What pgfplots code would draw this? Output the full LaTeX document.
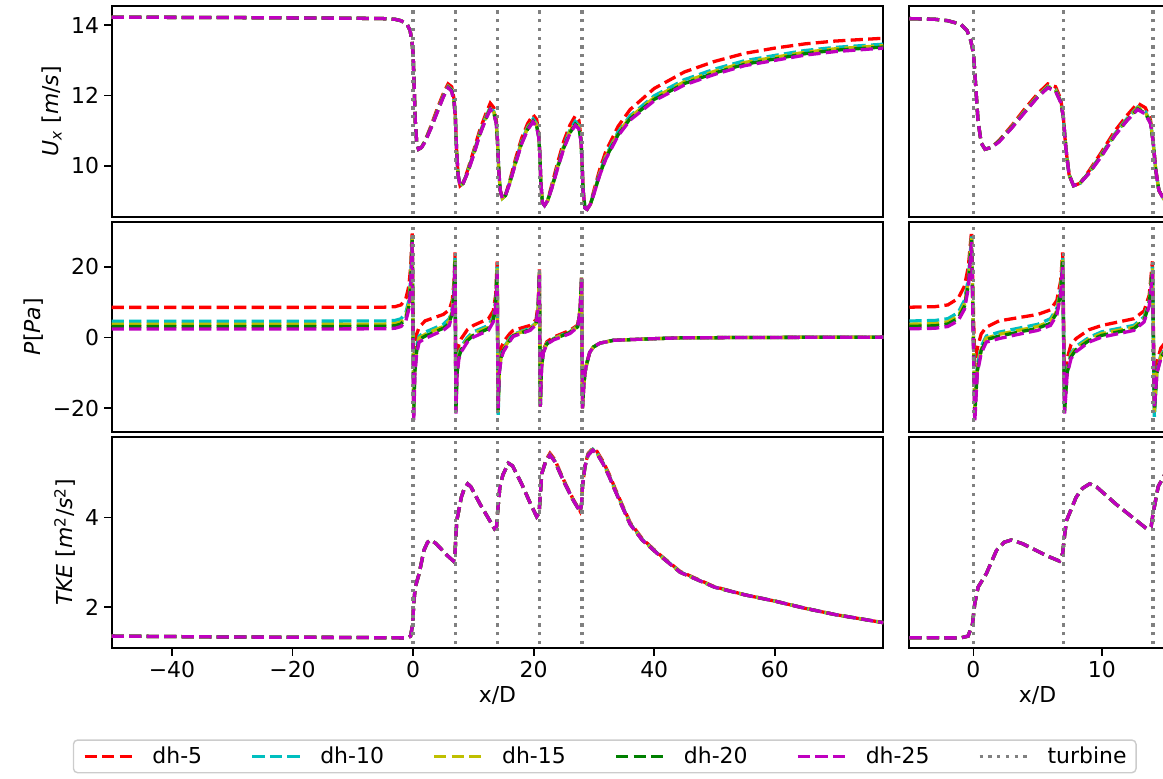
\documentclass[border=0pt]{standalone}
\usepackage{fontspec}
\setmainfont{DejaVu Sans}
\usepackage{pgfplots}
\usepackage{pgfplotstable}
\pgfplotsset{compat=1.18}

\definecolor{colR}{rgb}{1,0,0}
\definecolor{colC}{rgb}{0,0.75,0.75}
\definecolor{colY}{rgb}{0.75,0.75,0}
\definecolor{colG}{rgb}{0,0.5,0}
\definecolor{colM}{rgb}{0.75,0,0.75}
\definecolor{colGray}{rgb}{0.5,0.5,0.5}
\definecolor{lframe}{rgb}{0.8,0.8,0.8}

\pgfplotstableread{
x r c y g m
-50 14.23 14.23 14.23 14.23 14.23
-30 14.22 14.22 14.22 14.22 14.22
-10 14.20 14.20 14.20 14.20 14.20
-5 14.19 14.19 14.19 14.19 14.19
-3 14.17 14.17 14.17 14.17 14.17
-2 14.13 14.13 14.13 14.13 14.13
-1 14.03 14.03 14.03 14.03 14.03
-0.5 13.85 13.85 13.85 13.85 13.85
-0.2 13.55 13.55 13.55 13.55 13.55
0 13.2 13.2 13.2 13.2 13.2
0.15 12.4 12.4 12.4 12.4 12.4
0.35 11.3 11.3 11.3 11.3 11.3
0.6 10.65 10.65 10.65 10.65 10.65
0.9 10.47 10.47 10.47 10.47 10.47
1.4 10.52 10.52 10.52 10.52 10.52
2.0 10.72 10.7 10.7 10.7 10.68
3.0 11.15 11.11 11.1 11.09 11.08
4.0 11.62 11.56 11.55 11.53 11.52
5.0 12.05 11.99 11.98 11.96 11.95
5.8 12.33 12.26 12.25 12.23 12.22
6.4 12.25 12.17 12.15 12.14 12.12
6.8 11.9 11.84 11.83 11.81 11.8
7.0 11.4 11.4 11.4 11.4 11.4
7.2 10.5 10.5 10.5 10.5 10.5
7.45 9.75 9.75 9.75 9.75 9.75
7.8 9.43 9.43 9.43 9.43 9.43
8.3 9.5 9.5 9.5 9.5 9.5
9.0 9.85 9.81 9.8 9.79 9.78
10.0 10.4 10.34 10.32 10.3 10.28
11.0 10.98 10.9 10.88 10.86 10.85
12.0 11.45 11.36 11.33 11.31 11.3
12.8 11.78 11.67 11.65 11.62 11.6
13.4 11.65 11.54 11.52 11.49 11.47
13.8 11.3 11.24 11.23 11.21 11.2
14.0 10.7 10.7 10.7 10.7 10.7
14.2 9.9 9.9 9.9 9.9 9.9
14.45 9.3 9.3 9.3 9.3 9.3
14.8 9.07 9.07 9.07 9.07 9.07
15.3 9.15 9.15 9.15 9.15 9.15
16.0 9.55 9.51 9.5 9.49 9.48
17.0 10.2 10.12 10.1 10.08 10.07
18.0 10.78 10.69 10.66 10.64 10.62
19.0 11.2 11.1 11.07 11.04 11.02
19.9 11.45 11.33 11.3 11.27 11.25
20.5 11.32 11.19 11.16 11.13 11.1
20.85 10.9 10.84 10.83 10.81 10.8
21.0 10.4 10.4 10.4 10.4 10.4
21.2 9.5 9.5 9.5 9.5 9.5
21.45 8.95 8.95 8.95 8.95 8.95
21.8 8.87 8.87 8.87 8.87 8.87
22.3 9.0 9.0 9.0 9.0 9.0
23.0 9.45 9.39 9.37 9.36 9.35
24.0 10.1 10.0 9.98 9.96 9.94
25.0 10.7 10.57 10.54 10.51 10.49
26.0 11.15 11.01 10.97 10.93 10.91
26.9 11.42 11.26 11.22 11.18 11.15
27.5 11.3 11.15 11.11 11.08 11.05
27.85 10.8 10.74 10.73 10.71 10.7
28.0 10.2 10.2 10.2 10.2 10.2
28.2 9.3 9.3 9.3 9.3 9.3
28.5 8.8 8.8 8.8 8.8 8.8
28.85 8.76 8.76 8.76 8.76 8.76
29.4 8.9 8.9 8.9 8.9 8.9
30.0 9.3 9.24 9.23 9.21 9.2
31.0 9.92 9.82 9.79 9.77 9.75
32.0 10.42 10.29 10.26 10.23 10.2
34 11.12 10.96 10.92 10.88 10.85
36 11.6 11.42 11.38 11.34 11.3
40 12.2 11.99 11.94 11.89 11.85
45 12.67 12.45 12.39 12.34 12.3
50 12.97 12.75 12.69 12.64 12.6
55 13.2 12.99 12.94 12.89 12.85
60 13.35 13.14 13.09 13.04 13.0
65 13.47 13.28 13.23 13.19 13.15
70 13.55 13.37 13.33 13.29 13.25
78 13.63 13.46 13.42 13.38 13.35
}\Utab

\pgfplotstableread{
x r c y g m
-50 8.5 4.6 3.7 3.1 2.4
-20 8.5 4.6 3.7 3.1 2.4
-5 8.55 4.65 3.75 3.15 2.45
-3 8.7 4.8 3.9 3.3 2.6
-2 9.2 5.3 4.4 3.8 3.1
-1.2 11.0 7.0 6.0 5.4 4.7
-0.7 14.5 10.5 9.5 8.8 8.0
-0.4 20 16.5 15.5 14.8 14
-0.15 30 28.5 28 27.5 27
0.1 -8 -18 -20 -22 -24
0.3 -3 -8 -9 -9.5 -10
0.6 1.0 -2.5 -3.3 -3.7 -4.5
1.0 2.9 0.4 -0.2 -0.6 -1.3
2.0 4.7 1.5 0.9 0.4 -0.3
3.5 5.6 2.6 2.0 1.5 0.9
5.0 6.5 3.7 3.1 2.6 2.0
6.0 7.8 5.3 4.6 4.0 3.4
6.5 10.5 8.2 7.5 7.0 6.4
6.8 16 14 13.3 12.7 12
6.95 24 22.5 22 21.5 20.5
7.1 -15 -19 -20 -21 -21.5
7.3 -6 -9 -9.5 -10 -10.5
7.6 -2 -4.5 -5 -5.5 -6
8.0 -0.3 -2.5 -3 -3.4 -4
9.0 2.2 0 -0.5 -0.9 -1.3
10.0 3.4 1.6 1.1 0.6 0.1
12.5 5.3 3.4 2.9 2.5 2.0
13.3 7.5 5.8 5.3 4.9 4.4
13.7 12 10.3 9.8 9.4 8.9
13.95 21.5 20 19.5 19 18
14.1 -18 -22.5 -21 -20.5 -20
14.3 -7 -9.5 -9.5 -10 -10
14.6 -3 -5 -5.3 -5.6 -6
15.0 -1.2 -3 -3.3 -3.6 -4
16.0 1.0 -0.3 -0.6 -0.9 -1.2
16.6 2.0 0.9 0.7 0.5 0.3
19.4 3.4 2.6 2.4 2.2 2.0
20.4 5.0 4.2 4.0 3.8 3.6
20.75 9.5 8.8 8.6 8.4 8.2
20.95 19.2 18.5 18.3 18.1 17.8
21.1 -19 -19.5 -19.5 -19.5 -19.5
21.3 -8 -8.5 -8.6 -8.7 -8.8
21.6 -3.5 -4 -4.1 -4.2 -4.3
22.2 -1.2 -1.6 -1.7 -1.8 -1.9
23.3 0.1 -0.3 -0.4 -0.5 -0.7
26.0 2.0 1.6 1.5 1.4 1.1
27.3 3.5 3.2 3.1 3.0 2.9
27.7 8 7.7 7.6 7.5 7.4
27.95 16.9 16.9 16.9 16.9 16.9
28.1 -20 -20 -20 -20 -20
28.3 -14 -14 -14 -14 -14
28.5 -10 -10 -10 -10 -10
28.8 -7.4 -7.4 -7.4 -7.4 -7.4
29.3 -4.2 -4.2 -4.2 -4.2 -4.2
29.9 -2.7 -2.7 -2.7 -2.7 -2.7
31 -1.6 -1.6 -1.6 -1.6 -1.6
33.2 -0.8 -0.8 -0.8 -0.8 -0.8
38.8 -0.4 -0.4 -0.4 -0.4 -0.4
44.3 -0.1 -0.1 -0.1 -0.1 -0.1
55 0 0 0 0 0
78 0.1 0.1 0.1 0.1 0.1
}\Ptab

\pgfplotstableread{
x r c y g m
-50 1.36 1.36 1.36 1.36 1.36
-30 1.34 1.34 1.34 1.34 1.34
-10 1.33 1.33 1.33 1.33 1.33
-1 1.32 1.32 1.32 1.32 1.32
-0.42 1.36 1.36 1.36 1.36 1.36
-0.08 1.62 1.62 1.62 1.62 1.62
0.1 2.08 2.08 2.08 2.08 2.08
0.36 2.45 2.45 2.45 2.45 2.45
1.0 2.75 2.75 2.75 2.75 2.75
1.8 3.27 3.27 3.27 3.27 3.27
2.4 3.45 3.45 3.45 3.45 3.45
2.96 3.5 3.5 3.5 3.5 3.5
3.8 3.42 3.42 3.42 3.42 3.42
4.65 3.3 3.3 3.3 3.3 3.3
5.7 3.15 3.15 3.15 3.15 3.15
6.7 3.03 3.03 3.03 3.03 3.03
6.95 3.2 3.2 3.2 3.2 3.2
7.1 3.6 3.6 3.6 3.6 3.6
7.25 3.93 3.93 3.93 3.93 3.93
8.0 4.45 4.45 4.45 4.45 4.45
8.5 4.65 4.65 4.65 4.65 4.65
9.06 4.75 4.75 4.75 4.75 4.75
9.6 4.68 4.68 4.68 4.68 4.68
11.1 4.3 4.3 4.3 4.3 4.3
12.5 3.98 3.98 3.98 3.98 3.98
13.5 3.75 3.75 3.75 3.75 3.75
13.85 3.8 3.8 3.8 3.8 3.8
14.0 4.09 4.09 4.09 4.09 4.09
14.4 4.69 4.69 4.69 4.69 4.69
14.9 4.95 4.95 4.95 4.95 4.95
15.8 5.21 5.21 5.21 5.21 5.21
16.5 5.15 5.15 5.15 5.15 5.15
18 4.75 4.75 4.75 4.75 4.75
19.5 4.3 4.3 4.3 4.3 4.3
20.5 4.02 4.02 4.02 4.02 4.02
20.9 4.1 4.1 4.1 4.1 4.1
21.1 4.5 4.5 4.5 4.5 4.5
21.35 4.98 4.98 4.98 4.98 4.98
22 5.27 5.25 5.25 5.25 5.25
22.7 5.43 5.4 5.4 5.39 5.39
23.5 5.29 5.26 5.25 5.25 5.25
25 4.83 4.81 4.8 4.8 4.8
26.5 4.42 4.4 4.4 4.4 4.4
27.7 4.14 4.13 4.13 4.13 4.13
27.95 4.3 4.3 4.3 4.3 4.3
28.1 4.7 4.7 4.7 4.7 4.7
28.5 5.13 5.13 5.13 5.13 5.13
29 5.42 5.4 5.39 5.38 5.38
29.8 5.54 5.52 5.51 5.5 5.5
30.5 5.47 5.44 5.43 5.42 5.42
31.5 5.25 5.22 5.21 5.2 5.2
32.5 4.97 4.94 4.93 4.92 4.92
33.5 4.65 4.62 4.61 4.6 4.6
34.5 4.34 4.32 4.31 4.3 4.3
36 3.89 3.87 3.86 3.85 3.85
38 3.53 3.51 3.5 3.5 3.5
40.5 3.22 3.21 3.2 3.2 3.2
44.3 2.8 2.79 2.78 2.78 2.78
50 2.46 2.45 2.45 2.45 2.45
55 2.28 2.28 2.28 2.28 2.28
60 2.14 2.14 2.14 2.14 2.14
65 1.98 1.98 1.98 1.98 1.98
70 1.84 1.84 1.84 1.84 1.84
78 1.66 1.66 1.66 1.66 1.66
}\Ttab

\newcommand{\bigfont}{\fontsize{15.8}{19}\selectfont}

\pgfplotsset{
  panel/.style={
    scale only axis, anchor=south west,
    axis line style={line width=1.26pt},
    every tick/.style={black, line width=1.26pt},
    major tick length=5.5pt, tick align=outside,
    xtick pos=bottom, ytick pos=left,
    clip=true,
    tick label style={font=\bigfont},
    label style={font=\bigfont},
  },
  lpanel/.style={panel, width=555.55pt, xmin=-50, xmax=78},
  rpanel/.style={panel, width=184.75pt, xmin=-5, xmax=15, ytick=\empty},
  uxpanel/.style={height=151.7pt, ymin=8.55, ymax=14.55, xtick=\empty},
  pppanel/.style={height=151.2pt, ymin=-26.6, ymax=32.7, xtick=\empty},
  tkpanel/.style={height=152.35pt, ymin=1.09, ymax=5.8, xlabel={x/D}},
  ser/.style={line width=2.37pt, dash pattern=on 8.8pt off 3.8pt, line cap=butt},
  turb/.style={line width=2.37pt, colGray, dash pattern=on 2.37pt off 3.9pt, line cap=butt},
}

\newcommand{\series}[1]{%
  \addplot[ser,colR] table[x=x,y=r]{#1};
  \addplot[ser,colC] table[x=x,y=c]{#1};
  \addplot[ser,colY] table[x=x,y=y]{#1};
  \addplot[ser,colG] table[x=x,y=g]{#1};
  \addplot[ser,colM] table[x=x,y=m]{#1};
}
\newcommand{\turbines}{%
  \pgfplotsinvokeforeach{0,7,14,21,28}{\addplot[turb,forget plot] coordinates {(##1,-100) (##1,100)};}%
}

\begin{document}
\begin{tikzpicture}
% top row
\begin{axis}[lpanel, uxpanel, at={(80.42pt,404.14pt)},
  ytick={10,12,14}, yticklabels={10,12,14},
  ylabel={\textit{U}\textsubscript{\textit{x}} [\textit{m}/\textit{s}]}]
  \series{\Utab}
  \turbines
\end{axis}
\begin{axis}[rpanel, uxpanel, at={(654.7pt,404.14pt)}]
  \series{\Utab}
  \turbines
\end{axis}
% middle row
\begin{axis}[lpanel, pppanel, at={(80.42pt,249.34pt)},
  ytick={-20,0,20}, yticklabels={−20,0,20},
  ylabel={\textit{P}[\textit{Pa}]}]
  \series{\Ptab}
  \turbines
\end{axis}
\begin{axis}[rpanel, pppanel, at={(654.7pt,249.34pt)}]
  \series{\Ptab}
  \turbines
\end{axis}
% bottom row
\begin{axis}[lpanel, tkpanel, at={(80.42pt,93.38pt)},
  xtick={-40,-20,0,20,40,60}, xticklabels={−40,−20,0,20,40,60},
  ytick={2,4}, yticklabels={2,4},
  ylabel={\textit{TKE} [\textit{m}\textsuperscript{2}/\textit{s}\textsuperscript{2}]},
  legend style={at={(0.639,-0.511)}, anchor=center, draw=lframe, line width=1pt,
    rounded corners=3pt, fill=white,
    font=\bigfont, inner xsep=6.8pt, inner ysep=3.5pt,
    nodes={inner xsep=0pt, inner ysep=1.5pt},
    /tikz/every odd column/.append style={column sep=13.7pt},
    /tikz/every even column/.append style={column sep=35pt}},
  legend columns=6,
  legend cell align=left,
  legend image code/.code={\draw[#1] (0pt,0pt) -- (34pt,0pt);},
  legend entries={dh-5,dh-10,dh-15,dh-20,dh-25,turbine}]
  \series{\Ttab}
  \turbines
  \addlegendimage{turb}
\end{axis}
\begin{axis}[rpanel, tkpanel, at={(654.7pt,93.38pt)},
  xtick={0,10}, xticklabels={0,10}]
  \series{\Ttab}
  \turbines
\end{axis}
\pgfresetboundingbox
\path (0pt,0pt) rectangle (837.36pt,560.16pt);
\end{tikzpicture}
\end{document}
